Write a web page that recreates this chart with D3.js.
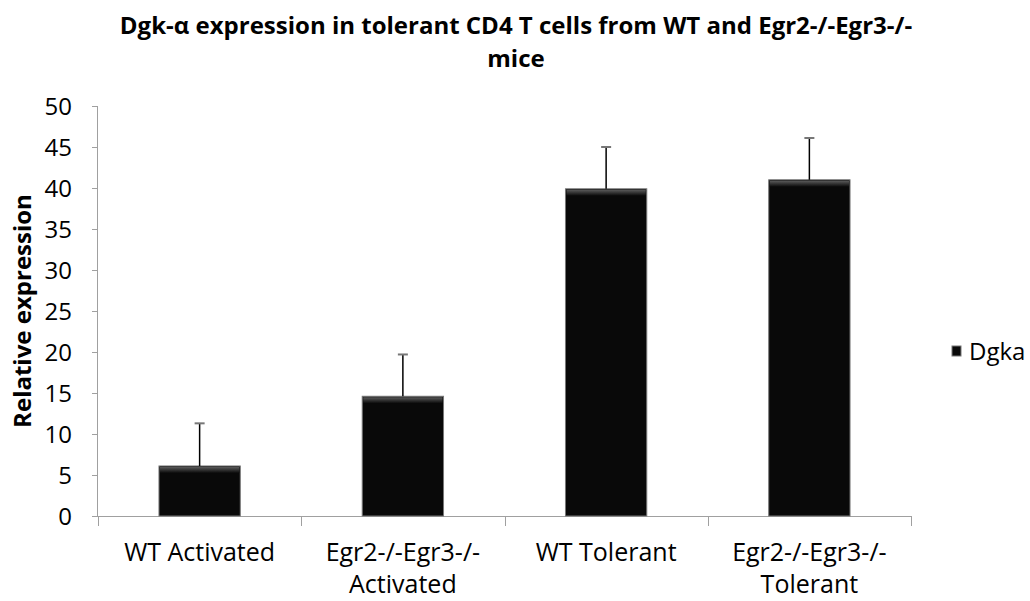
<!DOCTYPE html>
<html><head><meta charset="utf-8">
<script src="https://cdn.jsdelivr.net/npm/d3@7"></script>
<style>body{margin:0;background:#fff}svg{display:block}text{font-family:"Open Sans",Lato,sans-serif;fill:#000}</style>
</head><body>
<svg id="c" width="1030" height="601"></svg>
<script>
const categories = [["WT Activated"], ["Egr2-/-Egr3-/-", "Activated"], ["WT Tolerant"], ["Egr2-/-Egr3-/-", "Tolerant"]];
const values = [6.1, 14.6, 39.9, 41.0];
const errors = [5.2, 5.1, 5.1, 5.1];
const yTicks = [0, 5, 10, 15, 20, 25, 30, 35, 40, 45, 50];
const seriesName = "Dgka";
const titleLines = ["Dgk-\u03b1 expression in tolerant CD4 T cells from WT and Egr2-/-Egr3-/-", "mice"];
const yLabel = "Relative expression";

const svg = d3.select("#c");
const L = 98, R = 911, T = 106, B = 516;
const x = d3.scaleBand().domain(d3.range(categories.length)).range([L, R]).paddingInner(0.6).paddingOuter(0.3);
const y = d3.scaleLinear().domain([0, 50]).range([B, T]);

const defs = svg.append("defs");
const g1 = defs.append("linearGradient").attr("id", "gt").attr("x1", 0).attr("y1", 0).attr("x2", 0).attr("y2", 1);
g1.append("stop").attr("offset", 0).attr("stop-color", "#5a5a5a");
g1.append("stop").attr("offset", 1).attr("stop-color", "#0a0a0a");

// title
svg.append("g").selectAll("text").data(titleLines).join("text")
  .attr("x", 516).attr("y", (d, i) => 34 + i * 33).attr("text-anchor", "middle")
  .attr("font-size", 24).attr("font-weight", "bold").text(d => d);

// y axis
const yAx = svg.append("g").attr("transform", `translate(${L},0)`)
  .call(d3.axisLeft(y).tickValues(yTicks).tickSize(6).tickPadding(20));
yAx.select(".domain").attr("stroke", "#a0a0a0").attr("d", `M-0.5,${T}V${B}`);
yAx.selectAll(".tick line").attr("stroke", "#a0a0a0");
yAx.selectAll(".tick text").attr("font-size", 24).attr("font-family", "'Open Sans',sans-serif").attr("dy", "0.35em");

// x axis
const step = (R - L) / categories.length;
svg.append("line").attr("x1", L).attr("x2", R).attr("y1", B + 0.5).attr("y2", B + 0.5).attr("stroke", "#a0a0a0");
svg.append("g").selectAll("line").data(d3.range(categories.length + 1)).join("line")
  .attr("x1", i => Math.round(L + i * step) + 0.5).attr("x2", i => Math.round(L + i * step) + 0.5)
  .attr("y1", B).attr("y2", B + 10).attr("stroke", "#a0a0a0");

// bars
const bars = svg.append("g");
categories.forEach((c, i) => {
  const bx = x(i), bw = x.bandwidth(), by = y(values[i]), bh = B - by;
  bars.append("rect").attr("x", bx).attr("y", by).attr("width", bw).attr("height", bh)
    .attr("fill", "#090909").attr("stroke", "#777").attr("stroke-width", 1);
  bars.append("rect").attr("x", bx + 1).attr("y", by + 1).attr("width", bw - 2).attr("height", 6)
    .attr("fill", "url(#gt)");
  const cx = bx + bw / 2;
  bars.append("line").attr("x1", cx).attr("x2", cx).attr("y1", by).attr("y2", y(values[i] + errors[i]))
    .attr("stroke", "#000").attr("stroke-width", 1.5);
  bars.append("line").attr("x1", cx - 5).attr("x2", cx + 5).attr("y1", y(values[i] + errors[i])).attr("y2", y(values[i] + errors[i]))
    .attr("stroke", "#777").attr("stroke-width", 2);
});

// x labels
categories.forEach((c, i) => {
  const cx = x(i) + x.bandwidth() / 2;
  c.forEach((line, j) => {
    svg.append("text").attr("x", cx).attr("y", 561 + j * 32).attr("text-anchor", "middle")
      .attr("font-size", 25).text(line);
  });
});

// y label
svg.append("text").attr("transform", `translate(31,${(T + B) / 2}) rotate(-90)`)
  .attr("text-anchor", "middle").attr("font-size", 24).attr("font-weight", "bold").text(yLabel);

// legend
svg.append("rect").attr("x", 952).attr("y", 346).attr("width", 9).attr("height", 10)
  .attr("fill", "#090909").attr("stroke", "#777");
svg.append("text").attr("x", 969).attr("y", 360).attr("font-size", 24).text(seriesName);
</script>
</body></html>
